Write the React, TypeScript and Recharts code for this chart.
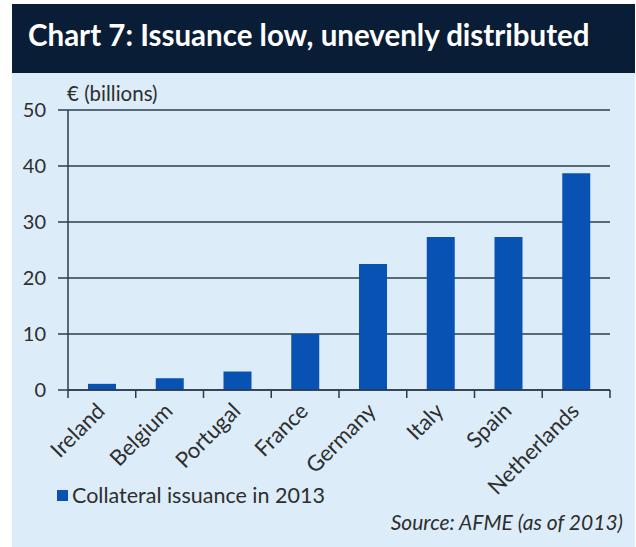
import React from "react";
import { BarChart, Bar, XAxis, YAxis, CartesianGrid } from "recharts";

const categories = ["Ireland", "Belgium", "Portugal", "France", "Germany", "Italy", "Spain", "Netherlands"];
const issuance2013 = [1.1, 2.1, 3.3, 10.0, 22.5, 27.3, 27.3, 38.7];
const yTicks = [0, 10, 20, 30, 40, 50];
const seriesName = "Collateral issuance in 2013";
const titleText = "Chart 7: Issuance low, unevenly distributed";
const unitText = "€ (billions)";
const sourceText = "Source: AFME (as of 2013)";

const data = categories.map((name, i) => ({ name, value: issuance2013[i] }));

const W = 636;
const H = 547;
const PLOT_LEFT = 68;
const PLOT_RIGHT = 610;
const PLOT_TOP = 110;
const PLOT_BOTTOM = 390;
const XAXIS_H = 80;
const FONT = "Lato, 'Open Sans', sans-serif";
const TEXT = "#2e2e2e";
const LINE = "#2b3b4b";
const BAR = "#0852b3";
const PANEL = "#dcedf9";
const HEADER = "#0a1d36";

const XTick = (props: any) => {
  const { x, payload, index } = props;
  const band = (PLOT_RIGHT - PLOT_LEFT) / categories.length;
  const ax = x - 1;
  const ay = PLOT_BOTTOM + 17;
  return (
    <g>
      <line x1={x - band / 2} x2={x - band / 2} y1={PLOT_BOTTOM} y2={PLOT_BOTTOM + 8} stroke={LINE} strokeWidth={1.5} />
      {index === categories.length - 1 && (
        <line x1={x + band / 2} x2={x + band / 2} y1={PLOT_BOTTOM} y2={PLOT_BOTTOM + 8} stroke={LINE} strokeWidth={1.5} />
      )}
      <text
        x={ax}
        y={ay}
        transform={`rotate(-45, ${ax}, ${ay})`}
        textAnchor="end"
        dy="0.35em"
        fontSize={22}
        fontFamily={FONT}
        fill={TEXT}
      >
        {payload.value}
      </text>
    </g>
  );
};

export default function App() {
  return (
    <div style={{ position: "absolute", left: 0, top: 0, width: W, height: H, background: "#ffffff", overflow: "hidden", fontFamily: FONT }}>
      <div style={{ position: "absolute", left: 12, top: 4, width: 623, height: 69, background: HEADER }} />
      <div style={{ position: "absolute", left: 12, top: 73, width: 623, height: 474, background: PANEL }} />
      <div
        style={{
          position: "absolute",
          left: 28,
          top: 16,
          color: "#ffffff",
          fontWeight: 700,
          fontSize: 29.5,
          lineHeight: "38px",
          whiteSpace: "nowrap",
        }}
      >
        {titleText}
      </div>
      <div style={{ position: "absolute", left: 67, top: 81, color: TEXT, fontSize: 20.5, lineHeight: "24px", whiteSpace: "nowrap" }}>
        {unitText}
      </div>
      <div style={{ position: "absolute", left: 0, top: 0 }}>
        <BarChart
          width={W}
          height={H}
          data={data}
          margin={{ top: PLOT_TOP, right: W - PLOT_RIGHT, bottom: H - PLOT_BOTTOM - XAXIS_H, left: 0 }}
        >
          <CartesianGrid vertical={false} stroke={LINE} strokeWidth={1.5} />
          <XAxis
            dataKey="name"
            interval={0}
            height={XAXIS_H}
            axisLine={{ stroke: LINE, strokeWidth: 1.5 }}
            tickLine={false}
            tick={<XTick />}
          />
          <YAxis
            domain={[0, 50]}
            ticks={yTicks}
            width={PLOT_LEFT}
            axisLine={{ stroke: LINE, strokeWidth: 1.5 }}
            tickLine={{ stroke: LINE, strokeWidth: 1.5 }}
            tickSize={10}
            tickMargin={12}
            tick={{ fontSize: 20, fill: TEXT, fontFamily: FONT }}
          />
          <Bar dataKey="value" name={seriesName} fill={BAR} barSize={28} isAnimationActive={false} />
        </BarChart>
      </div>
      <div style={{ position: "absolute", left: 57, top: 482, display: "flex", alignItems: "center", whiteSpace: "nowrap" }}>
        <div style={{ width: 11, height: 11, background: BAR, marginRight: 4 }} />
        <span style={{ fontSize: 21.5, color: TEXT, lineHeight: "26px" }}>{seriesName}</span>
      </div>
      <div
        style={{
          position: "absolute",
          right: W - 623,
          top: 509,
          fontStyle: "italic",
          fontSize: 21,
          color: TEXT,
          lineHeight: "26px",
          whiteSpace: "nowrap",
        }}
      >
        {sourceText}
      </div>
    </div>
  );
}
